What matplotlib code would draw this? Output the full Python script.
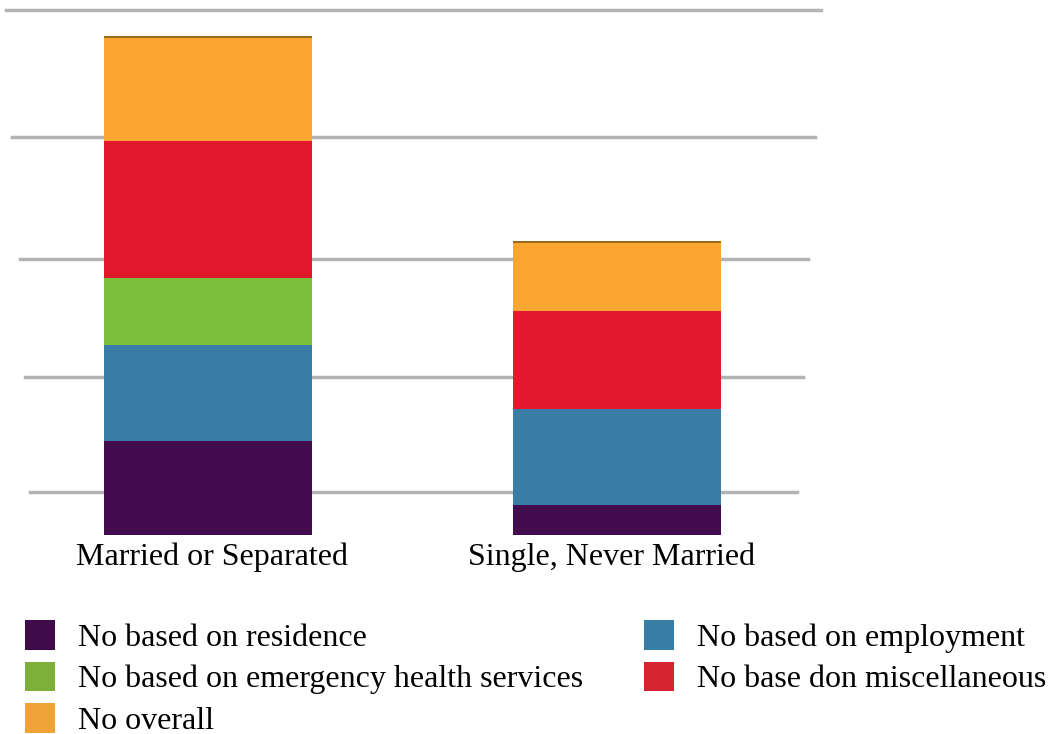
import matplotlib
matplotlib.use("Agg")
import matplotlib.pyplot as plt
from matplotlib.patches import Patch
import numpy as np

# ---- data ----
categories = ["Married or Separated", "Single, Never Married"]
series_names = [
    "No based on residence",
    "No based on employment",
    "No based on emergency health services",
    "No base don miscellaneous",
    "No overall",
]
residence = [3.9, 1.25]
employment = [4.0, 4.0]
emergency = [2.8, 0.0]
miscellaneous = [5.7, 4.1]
overall = [4.4, 2.9]
series_values = [residence, employment, emergency, miscellaneous, overall]
bar_colors = ["#430C4E", "#397CA6", "#7DBE3C", "#E2182F", "#FBA630"]
legend_colors = ["#3F0A48", "#367EA3", "#7CB03B", "#D42430", "#EFA235"]
gridline_values = [1.79, 6.58, 11.5, 16.6, 21.875]
gridline_spans = [(30, 797), (25, 803), (20, 808), (12, 815), (6, 821)]

plt.rcParams["font.family"] = ["Liberation Serif", "DejaVu Serif"]

W, H = 1048, 734
fig = plt.figure(figsize=(W / 100, H / 100), dpi=100)
base_px = 535
top_px = 10
ax = fig.add_axes([0, (H - base_px) / H, 1, (base_px - top_px) / H])
ax.set_ylim(0, 21.875)
centers_px = [208, 617]
spacing = centers_px[1] - centers_px[0]
ax.set_xlim(-centers_px[0] / spacing, (W - centers_px[0]) / spacing)
ax.axis("off")

for yv, (x0, x1) in zip(gridline_values, gridline_spans):
    ax.axhline(yv, xmin=x0 / W, xmax=x1 / W, color="#B3B3B3", lw=2.5,
               zorder=0, clip_on=False)

x = np.arange(len(categories))
bottom = np.zeros(len(categories))
for vals, col in zip(series_values, bar_colors):
    vals = np.array(vals)
    ax.bar(x, vals, width=0.51, bottom=bottom, color=col, edgecolor="none",
           zorder=2)
    bottom += vals
# thin dark rim on top of each bar
ax.bar(x, [0.08] * len(x), width=0.51, bottom=bottom - 0.08, color="#9A6A1E",
       edgecolor="none", zorder=3)

label_px = [212, 612]
for lp, cat in zip(label_px, categories):
    fig.text(lp / W, 1 - 557 / H, cat, ha="center", va="center", fontsize=23,
             color="black")

order = [0, 2, 4, 1, 3]
handles = [Patch(facecolor=legend_colors[i], edgecolor="none") for i in order]
labels = [series_names[i] for i in order]
fig.legend(handles, labels, ncol=2, loc="upper left",
           bbox_to_anchor=(25 / W, 1 - 620 / H), frameon=False,
           fontsize=23, handlelength=0.94, handleheight=1.05,
           handletextpad=0.72, columnspacing=1.9, labelspacing=0.28,
           borderaxespad=0, borderpad=0)

fig.savefig("out.png", dpi=100)
